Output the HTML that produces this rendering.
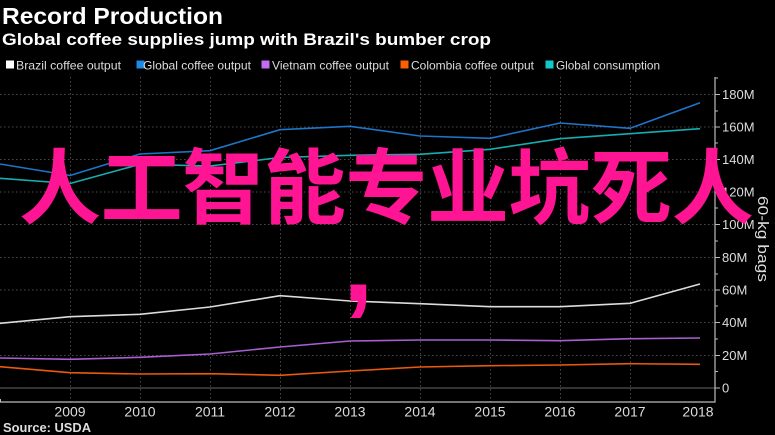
<!DOCTYPE html>
<html>
<head>
<meta charset="utf-8">
<style>
html,body{margin:0;padding:0;background:#000;}
svg{display:block;}
</style>
</head>
<body>
<svg width="775" height="435" viewBox="0 0 775 435" xmlns="http://www.w3.org/2000/svg">
<rect x="0" y="0" width="775" height="435" fill="#000"/>

<!-- Titles -->
<text x="2" y="24" fill="#fff" font-family="Liberation Sans, sans-serif" font-weight="bold" font-size="23" textLength="221" lengthAdjust="spacingAndGlyphs">Record Production</text>
<text x="2" y="45" fill="#fff" font-family="Liberation Sans, sans-serif" font-weight="bold" font-size="17" textLength="489" lengthAdjust="spacingAndGlyphs">Global coffee supplies jump with Brazil's bumber crop</text>

<!-- Legend -->
<g font-family="Liberation Sans, sans-serif" font-size="12" fill="#ddd">
<rect x="6" y="60.5" width="8" height="8" fill="#ffffff"/>
<text x="16" y="69.5" textLength="105" lengthAdjust="spacingAndGlyphs">Brazil coffee output</text>
<rect x="136.5" y="60.5" width="8" height="8" fill="#1e88e5"/>
<text x="143" y="69.5" textLength="108" lengthAdjust="spacingAndGlyphs">Global coffee output</text>
<rect x="261.5" y="60.5" width="8" height="8" fill="#c36ef0"/>
<text x="272" y="69.5" textLength="117" lengthAdjust="spacingAndGlyphs">Vietnam coffee output</text>
<rect x="400.5" y="60.5" width="8" height="8" fill="#ff5f00"/>
<text x="411" y="69.5" textLength="123" lengthAdjust="spacingAndGlyphs">Colombia coffee output</text>
<rect x="545.5" y="60.5" width="8" height="8" fill="#14c8c8"/>
<text x="556" y="69.5" textLength="104" lengthAdjust="spacingAndGlyphs">Global consumption</text>
</g>

<!-- Horizontal gridlines -->
<g stroke="#4a4a4a" stroke-width="1" stroke-dasharray="1.5,2.5">
<line x1="0" y1="94.5" x2="715" y2="94.5"/>
<line x1="0" y1="127" x2="715" y2="127"/>
<line x1="0" y1="159.5" x2="715" y2="159.5"/>
<line x1="0" y1="192" x2="715" y2="192"/>
<line x1="0" y1="224.5" x2="715" y2="224.5"/>
<line x1="0" y1="257.5" x2="715" y2="257.5"/>
<line x1="0" y1="290" x2="715" y2="290"/>
<line x1="0" y1="322.5" x2="715" y2="322.5"/>
<line x1="0" y1="355.5" x2="715" y2="355.5"/>
</g>
<line x1="0" y1="388" x2="715" y2="388" stroke="#666" stroke-width="1"/>

<!-- Vertical gridlines -->
<g stroke="#4a4a4a" stroke-width="1" stroke-dasharray="1.5,2.5">
<line x1="70.5" y1="77" x2="70.5" y2="402"/>
<line x1="140.5" y1="77" x2="140.5" y2="402"/>
<line x1="210.5" y1="77" x2="210.5" y2="402"/>
<line x1="280.5" y1="77" x2="280.5" y2="402"/>
<line x1="350.5" y1="77" x2="350.5" y2="402"/>
<line x1="420.5" y1="77" x2="420.5" y2="402"/>
<line x1="490.5" y1="77" x2="490.5" y2="402"/>
<line x1="560.5" y1="77" x2="560.5" y2="402"/>
<line x1="630.5" y1="77" x2="630.5" y2="402"/>
</g>

<!-- Series -->
<g fill="none" stroke-width="1.6" stroke-linejoin="round">
<polyline stroke="#1d74c8" points="0,164 70,175.5 140,154 210,150.7 280,129.7 350,126.3 420,136 490,138.3 560,123 630,128.3 700,102.7"/>
<polyline stroke="#17adb0" points="0,178.3 70,183.5 140,164.3 210,166 280,157.5 350,155.3 420,154.3 490,149.3 560,138.7 630,133.7 700,128.7"/>
<polyline stroke="#dcdcdc" points="0,323.3 70,316.7 140,314.3 210,307 280,295.7 350,301 420,303.7 490,306.7 560,306.7 630,303.3 700,284"/>
<polyline stroke="#a860d0" points="0,358 70,359.3 140,357.3 210,354 280,347 350,341 420,340 490,340 560,340.7 630,338.7 700,338"/>
<polyline stroke="#e85a0c" points="0,366.7 70,372.7 140,374 210,373.7 280,375.3 350,371 420,367 490,365.7 560,365 630,363.7 700,364.3"/>
</g>

<!-- Axes -->
<line x1="715" y1="77" x2="715" y2="402.5" stroke="#bbb" stroke-width="1.2"/>
<line x1="0" y1="402" x2="715.5" y2="402" stroke="#bbb" stroke-width="1.2"/>
<g stroke="#bbb" stroke-width="1">
<line x1="715" y1="94.5" x2="720" y2="94.5"/>
<line x1="715" y1="127" x2="720" y2="127"/>
<line x1="715" y1="159.5" x2="720" y2="159.5"/>
<line x1="715" y1="192" x2="720" y2="192"/>
<line x1="715" y1="224.5" x2="720" y2="224.5"/>
<line x1="715" y1="257.5" x2="720" y2="257.5"/>
<line x1="715" y1="290" x2="720" y2="290"/>
<line x1="715" y1="322.5" x2="720" y2="322.5"/>
<line x1="715" y1="355.5" x2="720" y2="355.5"/>
<line x1="715" y1="388" x2="720" y2="388"/>
<line x1="715" y1="111" x2="718" y2="111"/>
<line x1="715" y1="143" x2="718" y2="143"/>
<line x1="715" y1="176" x2="718" y2="176"/>
<line x1="715" y1="208" x2="718" y2="208"/>
<line x1="715" y1="241" x2="718" y2="241"/>
<line x1="715" y1="274" x2="718" y2="274"/>
<line x1="715" y1="306" x2="718" y2="306"/>
<line x1="715" y1="339" x2="718" y2="339"/>
<line x1="715" y1="371.5" x2="718" y2="371.5"/>
<line x1="715" y1="78" x2="718" y2="78"/>
<line x1="0.5" y1="399" x2="0.5" y2="402"/>
</g>

<!-- Right axis labels -->
<g font-family="Liberation Sans, sans-serif" font-size="13" fill="#ddd">
<text x="722" y="99">180M</text>
<text x="722" y="131.5">160M</text>
<text x="722" y="164">140M</text>
<text x="722" y="196.5">120M</text>
<text x="722" y="229">100M</text>
<text x="722" y="262">80M</text>
<text x="722" y="294.5">60M</text>
<text x="722" y="327">40M</text>
<text x="722" y="360">20M</text>
<text x="722" y="392.5">0</text>
</g>
<text transform="translate(758,196) rotate(90)" font-family="Liberation Sans, sans-serif" font-size="15" fill="#ddd" textLength="86" lengthAdjust="spacingAndGlyphs">60-kg bags</text>

<!-- X axis labels -->
<g font-family="Liberation Sans, sans-serif" font-size="14" fill="#ddd" text-anchor="middle">
<text x="70" y="416.5">2009</text>
<text x="140" y="416.5">2010</text>
<text x="210" y="416.5">2011</text>
<text x="280" y="416.5">2012</text>
<text x="350" y="416.5">2013</text>
<text x="420" y="416.5">2014</text>
<text x="490" y="416.5">2015</text>
<text x="560" y="416.5">2016</text>
<text x="630" y="416.5">2017</text>
<text x="698" y="416.5">2018</text>
</g>

<text x="3" y="432" font-family="Liberation Sans, sans-serif" font-weight="bold" font-size="13" fill="#ddd" textLength="88" lengthAdjust="spacingAndGlyphs">Source: USDA</text>

<!-- Overlay text -->
<text x="19 100.6 182.2 263.8 345.4 427 508.6 590.2 671.8" y="217" fill="#ff1493" font-family="Liberation Sans, 'Noto Sans CJK SC', sans-serif" font-weight="bold" font-size="82">人工智能专业坑死人</text>
<text x="343" y="301" fill="#ff1493" font-family="Liberation Sans, sans-serif" font-weight="bold" font-size="110">,</text>
</svg>
</body>
</html>
